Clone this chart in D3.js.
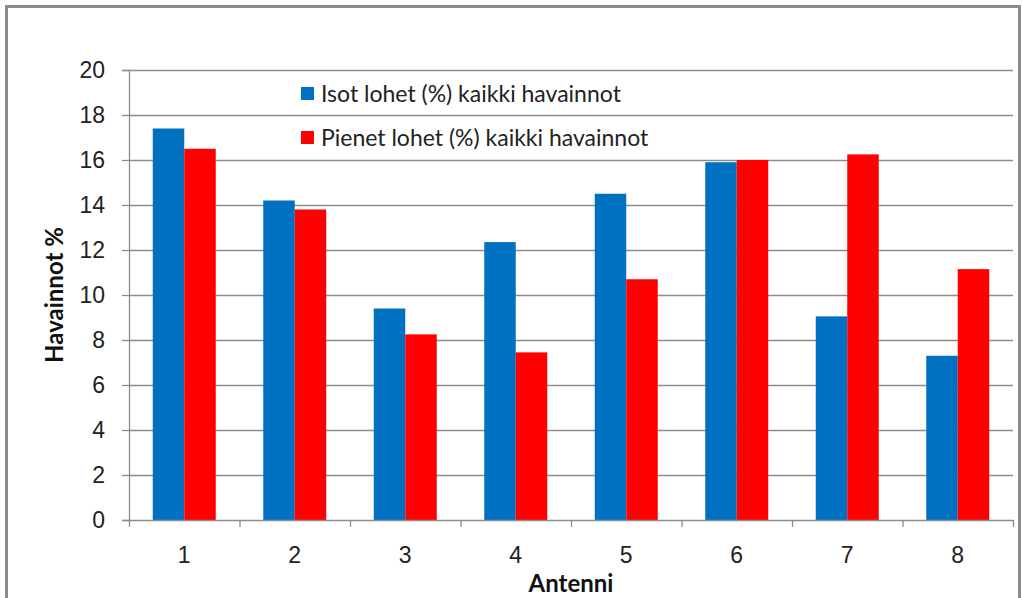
<!DOCTYPE html>
<html>
<head>
<meta charset="utf-8">
<script src="https://cdn.jsdelivr.net/npm/d3@7"></script>
<style>
  body { margin: 0; background: #fff; }
  svg { display: block; font-family: Lato, 'Open Sans', sans-serif; }
</style>
</head>
<body>
<div id="chart-area"></div>
<script>
// Data
const antennas = ['1', '2', '3', '4', '5', '6', '7', '8'];
const isotLohet = [17.4, 14.2, 9.4, 12.35, 14.5, 15.9, 9.05, 7.3];
const pienetLohet = [16.5, 13.8, 8.25, 7.45, 10.7, 16.0, 16.25, 11.15];
const seriesNames = ['Isot lohet (%) kaikki havainnot', 'Pienet lohet (%) kaikki havainnot'];
const seriesColors = ['#0070C0', '#FF0000'];
const yTicks = [0, 2, 4, 6, 8, 10, 12, 14, 16, 18, 20];

const W = 1022, H = 598;
const margin = { left: 129, right: 9, top: 70, bottom: 78 };
const width = W - margin.left - margin.right;
const height = H - margin.top - margin.bottom;

const svg = d3.select('#chart-area')
    .append('svg')
    .attr('width', W)
    .attr('height', H);

// Outer border
svg.append('rect')
    .attr('x', 6.5).attr('y', 6.5)
    .attr('width', 1013).attr('height', 620)
    .attr('fill', 'none')
    .attr('stroke', '#8c8c8c')
    .attr('stroke-width', 3);

const g = svg.append('g')
    .attr('transform', 'translate(' + margin.left + ', ' + margin.top + ')');

// Scales
const x = d3.scaleBand()
    .domain(antennas)
    .range([0, width]);

const x1 = d3.scaleBand()
    .domain([0, 1])
    .range([0, x.bandwidth() * 0.57])
    .padding(0);

const y = d3.scaleLinear()
    .domain([0, 20])
    .range([height, 0]);

// Gridlines
g.append('g')
    .selectAll('line')
    .data(yTicks.filter(d => d > 0))
    .enter()
    .append('line')
    .attr('x1', 0).attr('x2', width)
    .attr('y1', d => Math.round(y(d)) + 0.5)
    .attr('y2', d => Math.round(y(d)) + 0.5)
    .attr('stroke', '#8c8c8c')
    .attr('stroke-width', 1.3);

// Y axis
const yAxis = g.append('g')
    .call(d3.axisLeft(y).tickValues(yTicks).tickSize(7).tickPadding(17).tickFormat(d3.format('d')));
yAxis.select('.domain').attr('stroke', '#8c8c8c').attr('stroke-width', 1.3);
yAxis.selectAll('.tick line').attr('stroke', '#8c8c8c').attr('stroke-width', 1.3);
yAxis.selectAll('.tick text')
    .attr('font-size', '23px')
    .attr('fill', '#222')
    .style('font-family', 'inherit');

// Bars
const groups = g.selectAll('.grp')
    .data(antennas)
    .enter()
    .append('g')
    .attr('class', 'grp')
    .attr('transform', d => 'translate(' + (x(d) + x.bandwidth() * 0.215) + ',0)');

groups.selectAll('rect')
    .data((d, i) => [isotLohet[i], pienetLohet[i]])
    .enter()
    .append('rect')
    .attr('x', (d, j) => x1(j))
    .attr('width', x1.bandwidth())
    .attr('y', d => y(d))
    .attr('height', d => height - y(d))
    .attr('fill', (d, j) => seriesColors[j]);

// X axis
const xAxis = g.append('g')
    .attr('transform', 'translate(0, ' + height + ')')
    .call(d3.axisBottom(x).tickSize(0).tickPadding(27));
xAxis.select('.domain').attr('stroke', '#8c8c8c').attr('stroke-width', 1.3);
xAxis.selectAll('.tick text')
    .attr('font-size', '23px')
    .attr('fill', '#222')
    .style('font-family', 'inherit');

// X axis boundary ticks
g.append('g')
    .selectAll('line')
    .data(antennas.map(d => x(d)).concat([width]))
    .enter()
    .append('line')
    .attr('x1', d => d + 0.5).attr('x2', d => d + 0.5)
    .attr('y1', height).attr('y2', height + 7)
    .attr('stroke', '#8c8c8c')
    .attr('stroke-width', 1.3);

// Axis titles
svg.append('text')
    .attr('x', margin.left + width / 2)
    .attr('y', 592)
    .attr('text-anchor', 'middle')
    .attr('font-size', '24px')
    .attr('font-weight', 'bold')
    .attr('fill', '#111')
    .text('Antenni');

svg.append('text')
    .attr('transform', 'translate(63, ' + (margin.top + height / 2) + ') rotate(-90)')
    .attr('text-anchor', 'middle')
    .attr('font-size', '24px')
    .attr('font-weight', 'bold')
    .attr('fill', '#111')
    .text('Havainnot %');

// Legend
const legend = svg.append('g')
    .attr('transform', 'translate(301, 87)');

seriesNames.forEach((name, i) => {
    const row = legend.append('g').attr('transform', 'translate(0,' + i * 44 + ')');
    row.append('rect')
        .attr('width', 13).attr('height', 13)
        .attr('fill', seriesColors[i]);
    row.append('text')
        .attr('x', 20).attr('y', 14.5)
        .attr('font-size', '23px')
        .attr('fill', '#222')
        .text(name);
});
</script>
</body>
</html>
